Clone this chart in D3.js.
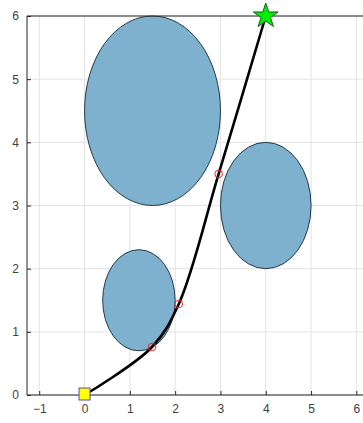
<!DOCTYPE html>
<html>
<head>
<meta charset="utf-8">
<script src="https://d3js.org/d3.v7.min.js"></script>
<style>
  body { margin: 0; background: #fff; }
  .tick text { font-family: "Liberation Sans", Arial, sans-serif; font-size: 12px; fill: #404040; }
</style>
</head>
<body>
<div id="chart"></div>
<script>
// obstacles (circles in data units)
var obstacles = [
  {cx: 1.5, cy: 4.5, r: 1.5},
  {cx: 4.0, cy: 3.0, r: 1.0},
  {cx: 1.2, cy: 1.5, r: 0.8}
];
// path waypoints
var pathX = [0, 1.49, 2.08, 2.96, 4];
var pathY = [0, 0.76, 1.44, 3.5, 6];
var waypoints = [1, 2, 3];
var xTicks = [-1, 0, 1, 2, 3, 4, 5, 6];
var yTicks = [0, 1, 2, 3, 4, 5, 6];

var W = 363, H = 423;
var x = d3.scaleLinear().domain([-1.27, 6.4]).range([27, 374.5]);
var y = d3.scaleLinear().domain([0, 6]).range([395, 16]);

var svg = d3.select("#chart").append("svg")
  .attr("width", W).attr("height", H);

// grid
svg.append("g").selectAll("line").data(xTicks).enter().append("line")
  .attr("x1", d => x(d)).attr("x2", d => x(d))
  .attr("y1", y(0)).attr("y2", y(6))
  .attr("stroke", "#e3e3e3").attr("stroke-width", 1);
svg.append("g").selectAll("line").data(yTicks).enter().append("line")
  .attr("x1", x(-1.27)).attr("x2", W)
  .attr("y1", d => y(d)).attr("y2", d => y(d))
  .attr("stroke", "#e3e3e3").attr("stroke-width", 1);

// obstacles
svg.append("g").selectAll("ellipse").data(obstacles).enter().append("ellipse")
  .attr("cx", d => x(d.cx)).attr("cy", d => y(d.cy))
  .attr("rx", d => x(d.r) - x(0)).attr("ry", d => y(0) - y(d.r))
  .attr("fill", "#7db1cd").attr("stroke", "#23394a").attr("stroke-width", 1);

// path
var pts = pathX.map((v, i) => [v, pathY[i]]);
var line = d3.line().x(d => x(d[0])).y(d => y(d[1])).curve(d3.curveCatmullRom.alpha(0.5));
svg.append("path").datum(pts).attr("d", line)
  .attr("fill", "none").attr("stroke", "#000").attr("stroke-width", 2.6);

// waypoint markers
svg.append("g").selectAll("circle").data(waypoints).enter().append("circle")
  .attr("cx", i => x(pathX[i])).attr("cy", i => y(pathY[i]))
  .attr("r", 3.8).attr("fill", "none").attr("stroke", "#ff2020").attr("stroke-width", 1);

// axes (ticks inside, matlab style)
var fmt = d3.format("d");
var xAxis = svg.append("g").attr("transform", "translate(0," + y(0) + ")")
  .call(d3.axisBottom(x).tickValues(xTicks).tickFormat(fmt).tickSizeInner(-4).tickSizeOuter(0).tickPadding(9));
var yAxis = svg.append("g").attr("transform", "translate(" + x(-1.27) + ",0)")
  .call(d3.axisLeft(y).tickValues(yTicks).tickFormat(fmt).tickSizeInner(-4).tickSizeOuter(0).tickPadding(8));
[xAxis, yAxis].forEach(a => {
  a.select(".domain").attr("stroke", "#262626");
  a.selectAll(".tick line").attr("stroke", "#262626");
});
xAxis.select(".domain").attr("d", "M" + x(-1.27) + ",0H" + W);
yAxis.select(".domain").attr("d", "M0," + y(0) + "V" + y(6));
// top frame line
svg.append("line").attr("x1", x(-1.27)).attr("x2", W)
  .attr("y1", y(6)).attr("y2", y(6)).attr("stroke", "#262626");

// start square
var s0 = [pathX[0], pathY[0]];
svg.append("rect")
  .attr("x", x(s0[0]) - 5.5).attr("y", y(s0[1]) - 7)
  .attr("width", 11).attr("height", 12)
  .attr("fill", "#ffff00").attr("stroke", "#5a4bb0").attr("stroke-width", 1);

// goal star
var n = pathX.length - 1;
var star = d3.symbol().type(d3.symbolStar).size(190);
svg.append("path").attr("d", star())
  .attr("transform", "translate(" + x(pathX[n]) + "," + y(pathY[n]) + ")")
  .attr("fill", "#00ee00").attr("stroke", "#1a5a1a").attr("stroke-width", 1);
</script>
</body>
</html>
